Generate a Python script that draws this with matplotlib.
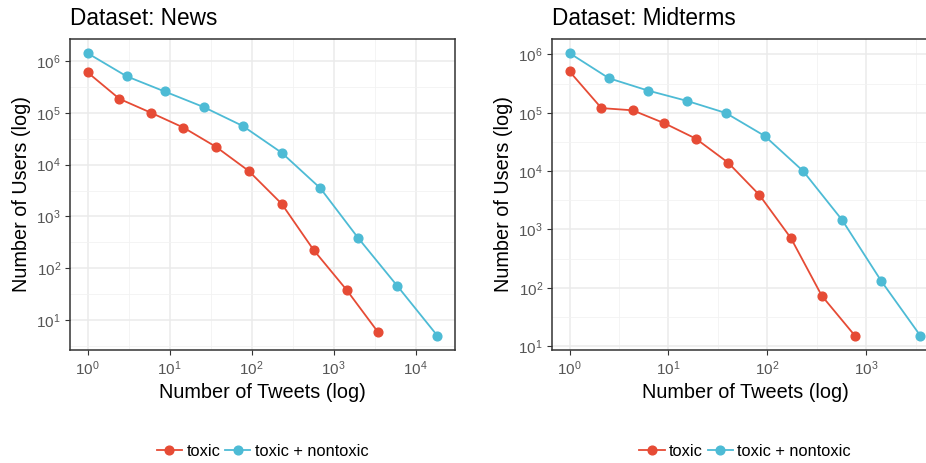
import matplotlib
matplotlib.use("Agg")
import matplotlib.pyplot as plt
import numpy as np
from matplotlib.ticker import LogLocator, NullFormatter

plt.rcParams["font.family"] = ["Liberation Sans", "DejaVu Sans"]
plt.rcParams["mathtext.fontset"] = "custom"
plt.rcParams["mathtext.rm"] = "Liberation Sans"
plt.rcParams["mathtext.it"] = "Liberation Sans:italic"
plt.rcParams["mathtext.bf"] = "Liberation Sans:bold"

RED = "#E64B35"
BLUE = "#4DBBD5"

# ---------- Data: tweets per user vs. number of users ----------
news_toxic_tweets = [1, 2.45, 6.0, 14.8, 37, 92, 233, 570, 1440, 3450]
news_toxic_users = [6.1e5, 1.87e5, 1.0e5, 5.2e4, 2.2e4, 7.6e3, 1.75e3, 225, 38, 5.9]
news_all_tweets = [1, 3.0, 8.7, 26, 78, 233, 690, 2000, 6000, 18500]
news_all_users = [1.43e6, 5.1e5, 2.6e5, 1.3e5, 5.6e4, 1.7e4, 3.5e3, 380, 45, 4.9]

mid_toxic_tweets = [1, 2.1, 4.35, 9.1, 18.9, 40, 83, 173, 355, 770]
mid_toxic_users = [5.1e5, 1.2e5, 1.1e5, 6.6e4, 3.6e4, 1.4e4, 3.9e3, 710, 73, 15]
mid_all_tweets = [1, 2.5, 6.2, 15.3, 38, 94, 230, 570, 1420, 3530]
mid_all_users = [1.05e6, 3.9e5, 2.4e5, 1.6e5, 9.9e4, 4.0e4, 1.0e4, 1.45e3, 130, 15]

panels = [
    ("Dataset: News", news_toxic_tweets, news_toxic_users, news_all_tweets, news_all_users),
    ("Dataset: Midterms", mid_toxic_tweets, mid_toxic_users, mid_all_tweets, mid_all_users),
]

fig = plt.figure(figsize=(9.26, 4.63), dpi=100)
axes = [
    fig.add_axes([70 / 926, 1 - 350 / 463, 385 / 926, 311 / 463]),
    fig.add_axes([552 / 926, 1 - 350 / 463, 386 / 926, 311 / 463]),
]

for ax, (title, tx, ty, ax_x, ax_y) in zip(axes, panels):
    ax.set_xscale("log")
    ax.set_yscale("log")
    ax.plot(tx, ty, "-o", color=RED, lw=1.3, ms=6.3, label="toxic", zorder=3)
    ax.plot(ax_x, ax_y, "-o", color=BLUE, lw=1.3, ms=6.3, label="toxic + nontoxic", zorder=3)

    # major grid at decades, minor grid halfway (in log space)
    for axis in (ax.xaxis, ax.yaxis):
        axis.set_major_locator(LogLocator(base=10, numticks=20))
        axis.set_minor_locator(LogLocator(base=10, subs=[10 ** 0.5], numticks=20))
        axis.set_minor_formatter(NullFormatter())
    ax.grid(which="major", color="#EBEBEB", lw=1.1)
    ax.grid(which="minor", color="#F2F2F2", lw=0.6)
    ax.set_axisbelow(True)

    for s in ax.spines.values():
        s.set_color("#333333")
        s.set_linewidth(1.1)
    ax.tick_params(which="major", length=3.5, width=0.8, color="#333333",
                   labelsize=11, labelcolor="#555555", pad=3)
    ax.tick_params(which="minor", length=0)

    ax.set_title(title, loc="left", fontsize=16.3, pad=10)
    ax.set_xlabel("Number of Tweets (log)", fontsize=14.3, labelpad=4)
    ax.set_ylabel("Number of Users (log)", fontsize=14.3, labelpad=4)

    ax.legend(loc="center", bbox_to_anchor=(0.5, -0.325), ncol=2, frameon=False,
              fontsize=11.8, handlelength=1.55, handletextpad=0.25, columnspacing=0.3,
              borderaxespad=0)

fig.savefig("out.png", dpi=100)
